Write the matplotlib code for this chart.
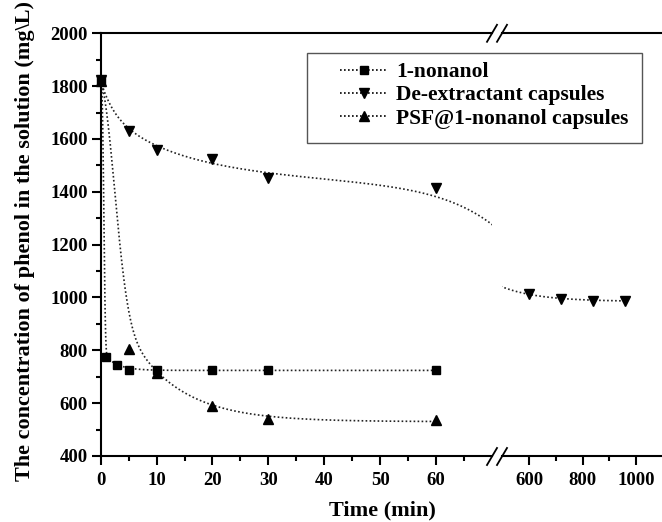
import numpy as np
import matplotlib
matplotlib.use("Agg")
import matplotlib.pyplot as plt
from matplotlib.lines import Line2D
from matplotlib.patches import Rectangle

plt.rcParams['font.family'] = ['Liberation Serif', 'DejaVu Serif']
plt.rcParams['font.weight'] = 'bold'
plt.rcParams['mathtext.default'] = 'regular'

# measured phenol concentration (mg/L) vs time (min)
t_nonanol = [0, 1, 3, 5, 10, 20, 30, 60]
c_nonanol = [1823, 776, 746, 724, 724, 724, 724, 724]

t_dex = [0, 5, 10, 20, 30, 60]
c_dex = [1822, 1631, 1558, 1523, 1451, 1413]
t_dex_long = [600, 720, 840, 960]
c_dex_long = [1012, 996, 988, 987]

t_psf = [0, 5, 10, 20, 30, 60]
c_psf = [1820, 804, 715, 590, 540, 535]

labels = ['1-nonanol', 'De-extractant capsules', 'PSF@1-nonanol capsules']

# trend line parameters
fit_nonanol = dict(y0=724, a1=1019, t1=0.65, p1=3.0, a2=80, t2=2.33)
fit_psf = dict(y0=530, a1=710, t1=3.52, p1=2.1, a2=580, t2=9.0)
fit_dex = dict(y0=1490, slope=-1.2, a1=110, t1=2.2, a2=220, t2=12.0, g=130, q=8, tref=70)
fit_dex_long = dict(y0=985, a=55, t0=500, tau=140)


def decay(t, y0, a1, t1, p1, a2, t2):
    return y0 + a1 * np.exp(-(t / t1) ** p1) + a2 * np.exp(-t / t2)


def dex_trend(t, y0, slope, a1, t1, a2, t2, g, q, tref):
    return (y0 + slope * t + a1 * np.exp(-t / t1) + a2 * np.exp(-t / t2)
            - g * (t / tref) ** q)


def dex_long_trend(t, y0, a, t0, tau):
    return y0 + a * np.exp(-(t - t0) / tau)


W, H = 662, 522


def box(x0, x1, top=33.3, bottom=456):
    return [x0 / W, 1 - bottom / H, (x1 - x0) / W, (bottom - top) / H]


def fpx(x, y):
    return x / W, 1 - y / H


fig = plt.figure(figsize=(W / 100, H / 100), dpi=100)
ax1 = fig.add_axes(box(100.7, 491.9))
ax2 = fig.add_axes(box(502.25, 662.75))

dot = dict(lw=1.2, linestyle=(0, (1, 1.4)))

tt = np.linspace(0, 60, 800)
ax1.plot(tt, decay(tt, **fit_nonanol), color='#222222', **dot)
ax1.plot(tt, decay(tt, **fit_psf), color='#222222', **dot)
td = np.linspace(0, 72, 800)
ax1.plot(td, dex_trend(td, **fit_dex), color='#222222', **dot)
tl = np.linspace(480, 960, 300)
ax2.plot(tl, dex_long_trend(tl, **fit_dex_long), color='#222222', **dot)

ax1.plot(t_nonanol, c_nonanol, 's', color='black', ms=6, clip_on=False, zorder=5)
ax1.plot(t_dex, c_dex, 'v', color='black', ms=7.5, clip_on=False, zorder=5)
ax1.plot(t_psf, c_psf, '^', color='black', ms=7.5, clip_on=False, zorder=5)
ax2.plot(t_dex_long, c_dex_long, 'v', color='black', ms=7.5, clip_on=False, zorder=5)

for ax in (ax1, ax2):
    ax.set_ylim(400, 2000)
    ax.spines['right'].set_visible(False)
    for s in ('top', 'bottom', 'left'):
        ax.spines[s].set_linewidth(1.5)
    ax.tick_params(which='both', direction='out', width=1.5, labelsize=13.5, top=False, right=False)
    ax.tick_params(which='major', length=6.5)
    ax.tick_params(which='minor', length=3.5)
    ax.tick_params(axis='x', pad=5)

ax1.set_xlim(0, 70)
ax1.set_xticks(np.arange(0, 61, 10))
ax1.set_xticks(np.arange(5, 66, 10), minor=True)
ax1.set_yticks(np.arange(400, 2001, 200))
ax1.set_yticks(np.arange(500, 2000, 200), minor=True)
ax1.tick_params(axis='y', pad=3)

ax2.set_xlim(500, 1100)
ax2.set_xticks([600, 800, 1000])
ax2.set_xticks([700, 900], minor=True)
ax2.spines['left'].set_visible(False)
ax2.tick_params(axis='y', which='both', left=False, labelleft=False)

# axis break marks
for y in (33.3, 456.5):
    for x in (492, 502):
        (xa, ya), (xb, yb) = fpx(x - 5, y + 8.5), fpx(x + 5, y - 8.5)
        fig.add_artist(Line2D([xa, xb], [ya, yb], color='black', lw=1.3))

fig.text(382 / W, 1 - 510 / H, 'Time (min)', ha='center', va='center', fontsize=16)
fig.text(25 / W, 1 - 241 / H, r'The concentration of phenol in the solution (mg\L)',
         rotation=90, ha='center', va='center', fontsize=16)

handles = [
    Line2D([], [], marker='s', ms=5.5, color='black', **dot),
    Line2D([], [], marker='v', ms=6.5, color='black', **dot),
    Line2D([], [], marker='^', ms=6.5, color='black', **dot),
]
fig.legend(handles, labels, loc='upper left', bbox_to_anchor=fpx(340, 62),
           frameon=False, borderpad=0, borderaxespad=0, handlelength=2.2,
           handletextpad=0.4, labelspacing=0.15, fontsize=15.5)
x0, y0 = fpx(307, 142.7)
fig.add_artist(Rectangle((x0, y0), (642 - 307) / W, (142.7 - 53.3) / H,
                         transform=fig.transFigure, fill=False, ec='#555555', lw=1))

fig.savefig('out.png', dpi=100)
